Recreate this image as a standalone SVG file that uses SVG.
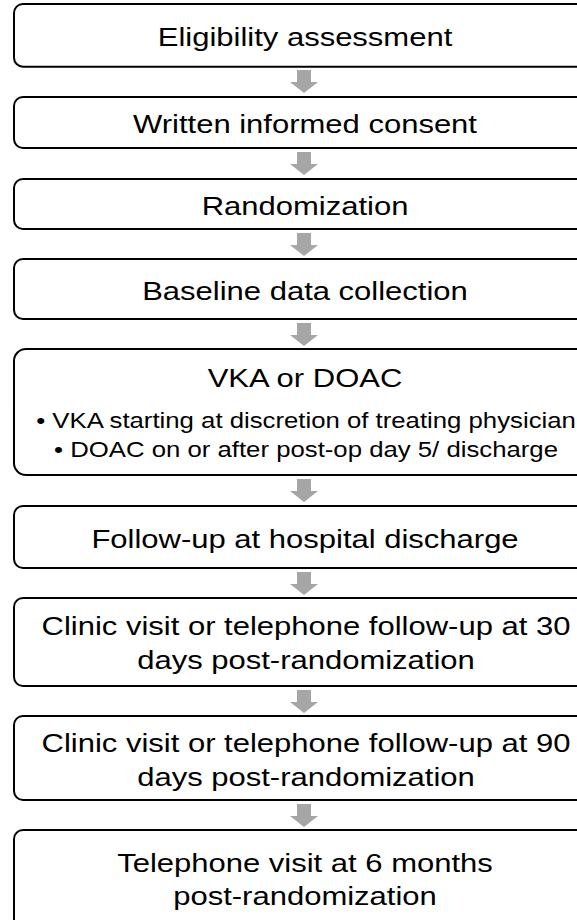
<svg xmlns="http://www.w3.org/2000/svg" xmlns:xlink="http://www.w3.org/1999/xlink" width="577" height="920" viewBox="0 0 577 920">
<style>
.box{fill:#fff;stroke:#000;stroke-width:2}
.t{font-family:"Liberation Sans",Arial,sans-serif;font-size:26.5px;fill:#000;text-anchor:middle}
.s{font-family:"Liberation Sans",Arial,sans-serif;font-size:22px;fill:#000;text-anchor:middle}
.arr{fill:#a6a6a6}
</style>
<defs>
<path id="arrow" d="M-7,0 H7 V12 H14 L0,23 L-14,12 H-7 Z"/>
</defs>
<rect width="577" height="920" fill="#fff"/>
<g id="connectors" class="arr">
<use xlink:href="#arrow" x="304" y="70"/>
<use xlink:href="#arrow" x="304" y="152"/>
<use xlink:href="#arrow" x="304" y="233"/>
<use xlink:href="#arrow" x="304" y="323"/>
<use xlink:href="#arrow" x="304" y="479"/>
<use xlink:href="#arrow" x="304" y="572"/>
<use xlink:href="#arrow" x="304" y="690"/>
<use xlink:href="#arrow" x="304" y="804"/>
</g>
<g id="n1"><rect class="box" x="14" y="4" width="590" height="62.7" rx="9"/>
<text class="t" transform="translate(305,46) scale(1.17,1)">Eligibility assessment</text></g>
<g id="n2"><rect class="box" x="14" y="97" width="590" height="51" rx="9"/>
<text class="t" transform="translate(305,133) scale(1.17,1)">Written informed consent</text></g>
<g id="n3"><rect class="box" x="14" y="179" width="590" height="50" rx="9"/>
<text class="t" transform="translate(305,214.5) scale(1.17,1)">Randomization</text></g>
<g id="n4"><rect class="box" x="14" y="259" width="590" height="60" rx="9"/>
<text class="t" transform="translate(305,299.5) scale(1.17,1)">Baseline data collection</text></g>
<g id="n5"><rect class="box" x="14" y="349" width="590" height="126" rx="12"/>
<text class="t" transform="translate(305,387) scale(1.17,1)">VKA or DOAC</text>
<text class="s" transform="translate(306,428) scale(1.17,1)">• VKA starting at discretion of treating physician</text>
<text class="s" transform="translate(306,457) scale(1.17,1)">• DOAC on or after post-op day 5/ discharge</text></g>
<g id="n6"><rect class="box" x="14" y="506" width="590" height="62" rx="9"/>
<text class="t" transform="translate(305,547.5) scale(1.17,1)">Follow-up at hospital discharge</text></g>
<g id="n7"><rect class="box" x="14" y="598" width="590" height="88" rx="9"/>
<text class="t" transform="translate(306,635) scale(1.17,1)">Clinic visit or telephone follow-up at 30</text>
<text class="t" transform="translate(306,669) scale(1.17,1)">days post-randomization</text></g>
<g id="n8"><rect class="box" x="14" y="716" width="590" height="84" rx="9"/>
<text class="t" transform="translate(306,752) scale(1.17,1)">Clinic visit or telephone follow-up at 90</text>
<text class="t" transform="translate(306,786) scale(1.17,1)">days post-randomization</text></g>
<g id="n9"><rect class="box" x="14" y="830" width="590" height="100" rx="9"/>
<text class="t" transform="translate(305,872) scale(1.17,1)">Telephone visit at 6 months</text>
<text class="t" transform="translate(305,905) scale(1.17,1)">post-randomization</text></g>
</svg>
